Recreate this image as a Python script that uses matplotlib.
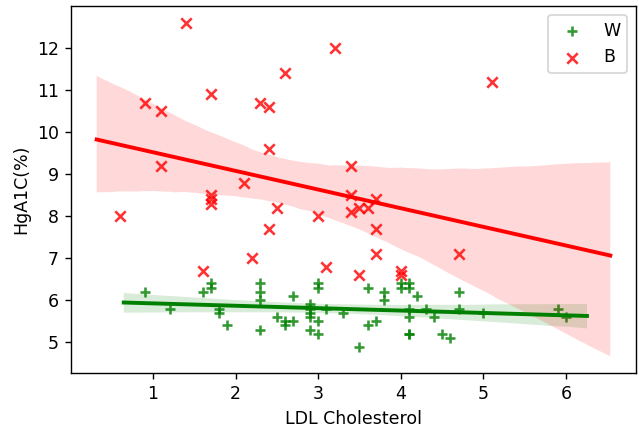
import matplotlib
matplotlib.use("Agg")
import matplotlib.pyplot as plt
import seaborn as sns
import numpy as np

# Group W (green '+')
w_ldl = [0.9, 1.2, 1.6, 1.7, 1.7, 1.8, 1.8, 1.9,
         2.3, 2.3, 2.3, 2.3,
         2.5, 2.6, 2.6, 2.7, 2.7,
         2.9, 2.9, 2.9, 2.9, 2.9,
         3.0, 3.0, 3.0, 3.0,
         3.1, 3.3, 3.5, 3.6, 3.6, 3.7,
         3.8, 3.8,
         4.0, 4.0, 4.1, 4.1, 4.2, 4.1, 4.1, 4.1, 4.1,
         4.3, 4.4, 4.5, 4.6,
         4.7, 4.7, 5.0, 5.9, 6.0]
w_hga1c = [6.2, 5.8, 6.2, 6.4, 6.3, 5.8, 5.7, 5.4,
           6.4, 6.2, 6.0, 5.3,
           5.6, 5.5, 5.4, 6.1, 5.5,
           5.9, 5.8, 5.7, 5.6, 5.3,
           6.4, 6.3, 5.5, 5.2,
           5.8, 5.7, 4.9, 6.3, 5.4, 5.5,
           6.2, 6.0,
           6.4, 6.3, 6.4, 6.3, 6.1, 5.8, 5.6, 5.2, 5.2,
           5.8, 5.6, 5.2, 5.1,
           6.2, 5.8, 5.7, 5.8, 5.6]

# Group B (red 'x')
b_ldl = [1.4, 3.2, 2.6, 5.1, 1.7, 0.9, 1.1, 2.3, 2.4, 2.4,
         1.1, 3.4, 2.1, 1.7, 1.7, 1.7, 3.4, 3.4, 3.5, 3.6,
         3.7, 2.5, 0.6, 3.0, 2.4, 3.7, 3.7, 4.7, 2.2, 3.1,
         1.6, 3.5, 4.0, 4.0]
b_hga1c = [12.6, 12.0, 11.4, 11.2, 10.9, 10.7, 10.5, 10.7, 10.6, 9.6,
           9.2, 9.2, 8.8, 8.5, 8.4, 8.3, 8.5, 8.1, 8.2, 8.2,
           8.4, 8.2, 8.0, 8.0, 7.7, 7.7, 7.1, 7.1, 7.0, 6.8,
           6.7, 6.6, 6.7, 6.6]

DPI = 125
fig = plt.figure(figsize=(639 / DPI, 429 / DPI), dpi=DPI)
ax = fig.add_axes([71 / 639, 1 - 373 / 429, (636 - 71) / 639, (373 - 6) / 429])


def unstick(a):
    # let autoscaling add normal margins around the regression lines/bands
    for art in list(a.lines) + list(a.collections):
        art.sticky_edges.x.clear()
        art.sticky_edges.y.clear()
    a.autoscale_view()


sns.regplot(x=np.array(w_ldl), y=np.array(w_hga1c), color='g', marker='+',
            label='W', truncate=False, seed=1, ax=ax)
unstick(ax)
sns.regplot(x=np.array(b_ldl), y=np.array(b_hga1c), color='r', marker='x',
            label='B', truncate=False, seed=1, ax=ax)
unstick(ax)

ax.set_xlabel('LDL Cholesterol')
ax.set_ylabel('HgA1C(%)')
ax.legend(loc='upper right')

fig.savefig('out.png', dpi=DPI)
